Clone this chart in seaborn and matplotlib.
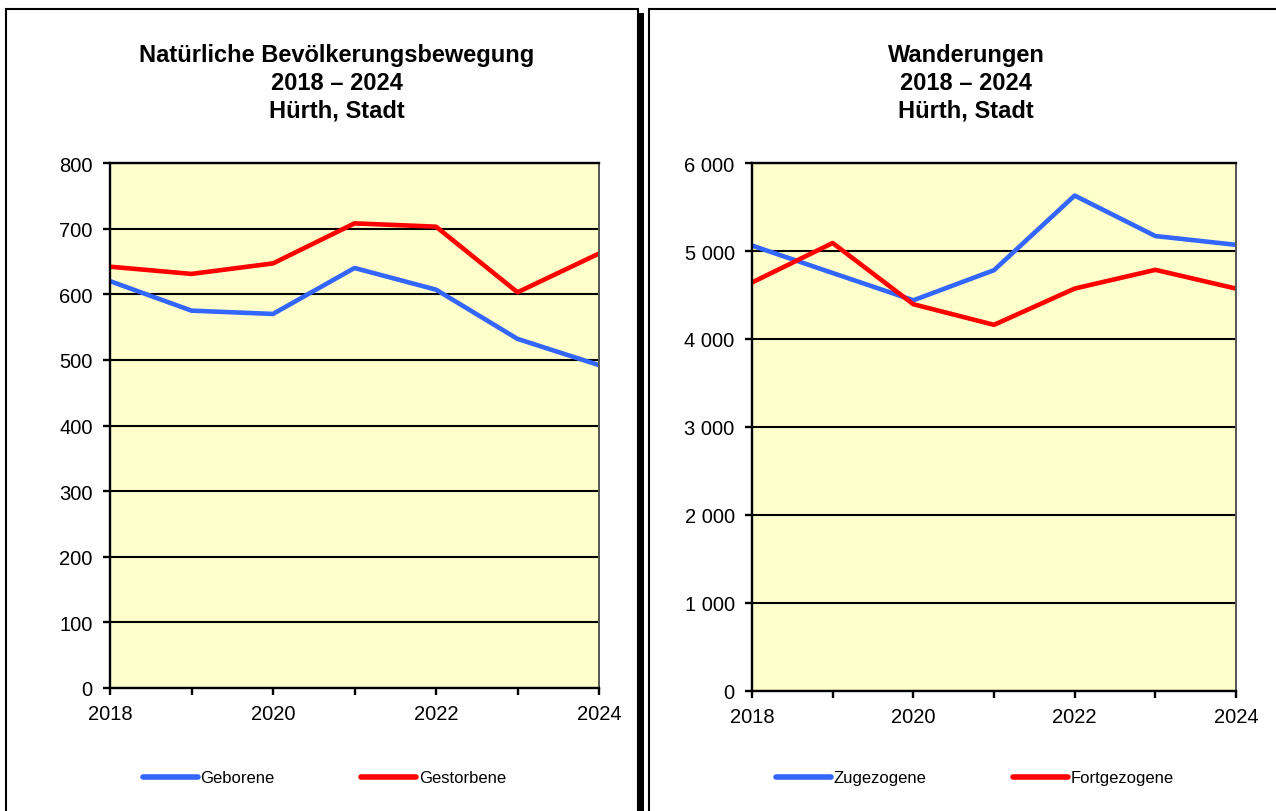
import matplotlib
matplotlib.use("Agg")
import matplotlib.pyplot as plt
from matplotlib.patches import Rectangle
from matplotlib.ticker import FuncFormatter, MultipleLocator
import pandas as pd
import seaborn as sns

years = [2018, 2019, 2020, 2021, 2022, 2023, 2024]
geborene = [620, 575, 570, 640, 607, 532, 492]
gestorbene = [642, 631, 647, 708, 703, 603, 662]
zugezogene = [5062, 4750, 4440, 4782, 5630, 5170, 5070]
fortgezogene = [4642, 5091, 4395, 4161, 4573, 4786, 4573]

titles = ["Natürliche Bevölkerungsbewegung\n2018 – 2024\nHürth, Stadt",
          "Wanderungen\n2018 – 2024\nHürth, Stadt"]
palette = ["#3366FF", "#FF0000"]

W, H = 1276, 812

sns.set_style("white")
plt.rcParams['font.family'] = ['Liberation Sans', 'DejaVu Sans']
plt.rcParams['text.color'] = 'black'
plt.rcParams['xtick.color'] = 'black'
plt.rcParams['ytick.color'] = 'black'


def fx(px):
    return px / W


def fy(py):
    return 1 - py / H


def panel(fig, x0, y0, x1, y1, shadow=True):
    if shadow:
        fig.patches.append(Rectangle((fx(x1 + 1), fy(y1 + 6)), fx(5), fy(y0 + 4) - fy(y1 + 6),
                                     transform=fig.transFigure, facecolor="black",
                                     edgecolor="none", zorder=-2))
    fig.patches.append(Rectangle((fx(x0), fy(y1)), fx(x1 - x0), fy(y0) - fy(y1),
                                 transform=fig.transFigure, facecolor="white",
                                 edgecolor="black", linewidth=1.5, zorder=-1))


def style_axis(ax, ymax, step, fmt):
    ax.set_facecolor("#FFFFCC")
    ax.set_xlim(2018, 2024)
    ax.set_ylim(0, ymax)
    ax.yaxis.set_major_locator(MultipleLocator(step))
    ax.yaxis.set_major_formatter(FuncFormatter(fmt))
    ax.set_xticks(years)
    ax.set_xticklabels([str(y) if y % 2 == 0 else "" for y in years])
    ax.grid(axis="y", color="black", linewidth=1.5)
    ax.grid(axis="x", visible=False)
    ax.set_axisbelow(True)
    for s in ["left", "bottom", "top"]:
        ax.spines[s].set_color("black")
        ax.spines[s].set_linewidth(1.7)
    ax.spines["right"].set_color("#555555")
    ax.spines["right"].set_linewidth(1.4)
    ax.tick_params(axis="both", direction="out", length=5, width=1.7, color="black",
                   labelsize=14.5, left=True, bottom=True, labelcolor="black")
    ax.tick_params(axis="y", pad=7.5)
    ax.tick_params(axis="x", pad=6.5)
    ax.set_xlabel("")
    ax.set_ylabel("")
    ax.set_zorder(2)


fig = plt.figure(figsize=(W / 100, H / 100), dpi=100)
panel(fig, 6, 10, 638, 840)
panel(fig, 649, 10, 1300, 840)

ax1 = fig.add_axes([fx(110), fy(689), fx(599 - 110), fy(164) - fy(689)])
ax2 = fig.add_axes([fx(752), fy(692), fx(1236 - 752), fy(164) - fy(692)])

df1 = pd.DataFrame({"Jahr": years * 2,
                    "Wert": geborene + gestorbene,
                    "Serie": ["Geborene"] * 7 + ["Gestorbene"] * 7})
df2 = pd.DataFrame({"Jahr": years * 2,
                    "Wert": zugezogene + fortgezogene,
                    "Serie": ["Zugezogene"] * 7 + ["Fortgezogene"] * 7})

sns.lineplot(data=df1, x="Jahr", y="Wert", hue="Serie", palette=palette,
             linewidth=3.3, ax=ax1, legend=True)
sns.lineplot(data=df2, x="Jahr", y="Wert", hue="Serie", palette=palette,
             linewidth=3.3, ax=ax2, legend=True)

style_axis(ax1, 800, 100, lambda v, p: f"{int(v)}")
style_axis(ax2, 6000, 1000, lambda v, p: f"{int(v):,}".replace(",", " "))

for ax, tx, title in [(ax1, 337, titles[0]), (ax2, 966, titles[1])]:
    fig.text(fx(tx), fy(83), title, ha="center", va="center", fontsize=17,
             fontweight="bold", linespacing=1.26, color="black")

for ax, lx in [(ax1, 143), (ax2, 776)]:
    handles, labels = ax.get_legend_handles_labels()
    ax.legend(handles, labels, loc="center left", bbox_to_anchor=(fx(lx), fy(779)),
              bbox_transform=fig.transFigure, ncol=2, frameon=False, fontsize=12,
              handlelength=3.3, handletextpad=0.15, columnspacing=5.2,
              borderpad=0, borderaxespad=0)
    for line in ax.get_legend().get_lines():
        line.set_linewidth(4)
        line.set_solid_capstyle("round")

fig.savefig("out.png", dpi=100)
